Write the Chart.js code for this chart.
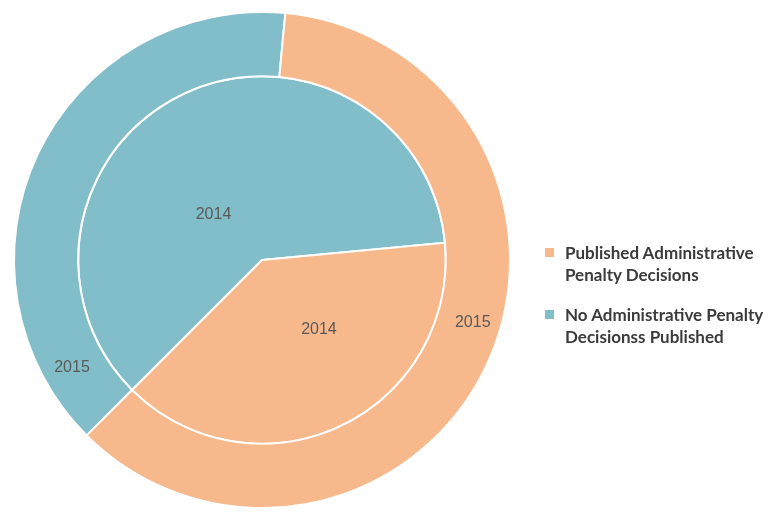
<!DOCTYPE html>
<html>
<head>
<meta charset="utf-8">
<script src="https://cdn.jsdelivr.net/npm/chart.js@4.4.1/dist/chart.umd.min.js"></script>
<style>
  html, body { margin: 0; padding: 0; background: #fff; }
  #wrap { position: relative; width: 771px; height: 512px; }
  #legend { position: absolute; left: 545px; top: 242px; font-family: Lato, "Open Sans", sans-serif; font-size: 17px; font-weight: 700; color: #3b3b3b; line-height: 22px; white-space: nowrap; }
  .item { position: relative; padding-left: 20px; margin-bottom: 18px; }
  .box { position: absolute; left: 0; top: 6px; width: 9px; height: 9px; }
</style>
</head>
<body>
<div id="wrap">
  <canvas id="chart" width="771" height="512"></canvas>
  <div id="legend"></div>
</div>
<script>
// share of companies, percent; outer ring is 2015, inner pie is 2014
const categories = ["No Administrative Penalty Decisionss Published", "Published Administrative Penalty Decisions"];
const legendLines = [["No Administrative Penalty", "Decisionss Published"], ["Published Administrative", "Penalty Decisions"]];
const years = ["2015", "2014"];
const values2015 = [39, 61];
const values2014 = [61, 39];

const colors = ["#82bdca", "#f7b88b"];

// where each year label sits inside its slice: fraction along the arc, fraction across the ring
const labelSpots = [
  [[0.11, 0.54], [0.46, 0.56]],
  [[0.40, 0.36], [0.40, 0.49]]
];

const yearLabels = {
  id: "yearLabels",
  afterDatasetsDraw(chart) {
    const ctx = chart.ctx;
    ctx.save();
    ctx.font = "16px 'Liberation Sans', Arial, sans-serif";
    ctx.fillStyle = "#5a5a5a";
    ctx.textAlign = "center";
    ctx.textBaseline = "middle";
    chart.data.datasets.forEach((ds, di) => {
      chart.getDatasetMeta(di).data.forEach((arc, i) => {
        const p = arc.getProps(["x", "y", "startAngle", "endAngle", "innerRadius", "outerRadius"], true);
        const [fa, fr] = labelSpots[di][i];
        const a = p.startAngle + fa * (p.endAngle - p.startAngle);
        const r = p.innerRadius + fr * (p.outerRadius - p.innerRadius);
        ctx.fillText(years[di], p.x + r * Math.cos(a), p.y + r * Math.sin(a));
      });
    });
    ctx.restore();
  }
};

new Chart(document.getElementById("chart"), {
  type: "doughnut",
  data: {
    labels: categories,
    datasets: [
      { label: years[0], data: values2015, backgroundColor: colors, borderColor: "#fff", borderWidth: 2, weight: 64 },
      { label: years[1], data: values2014, backgroundColor: colors, borderColor: "#fff", borderWidth: 2, weight: 183 }
    ]
  },
  options: {
    responsive: false,
    animation: false,
    cutout: 0,
    rotation: 225,
    layout: { padding: { left: 13, right: 260, top: 10, bottom: 2 } },
    plugins: { legend: { display: false }, tooltip: { enabled: false } }
  },
  plugins: [yearLabels]
});

// legend on the right, published first
const legend = document.getElementById("legend");
[1, 0].forEach(i => {
  const item = document.createElement("div");
  item.className = "item";
  item.innerHTML = '<span class="box" style="background:' + colors[i] + '"></span>' + legendLines[i].join("<br>");
  legend.appendChild(item);
});
</script>
</body>
</html>
